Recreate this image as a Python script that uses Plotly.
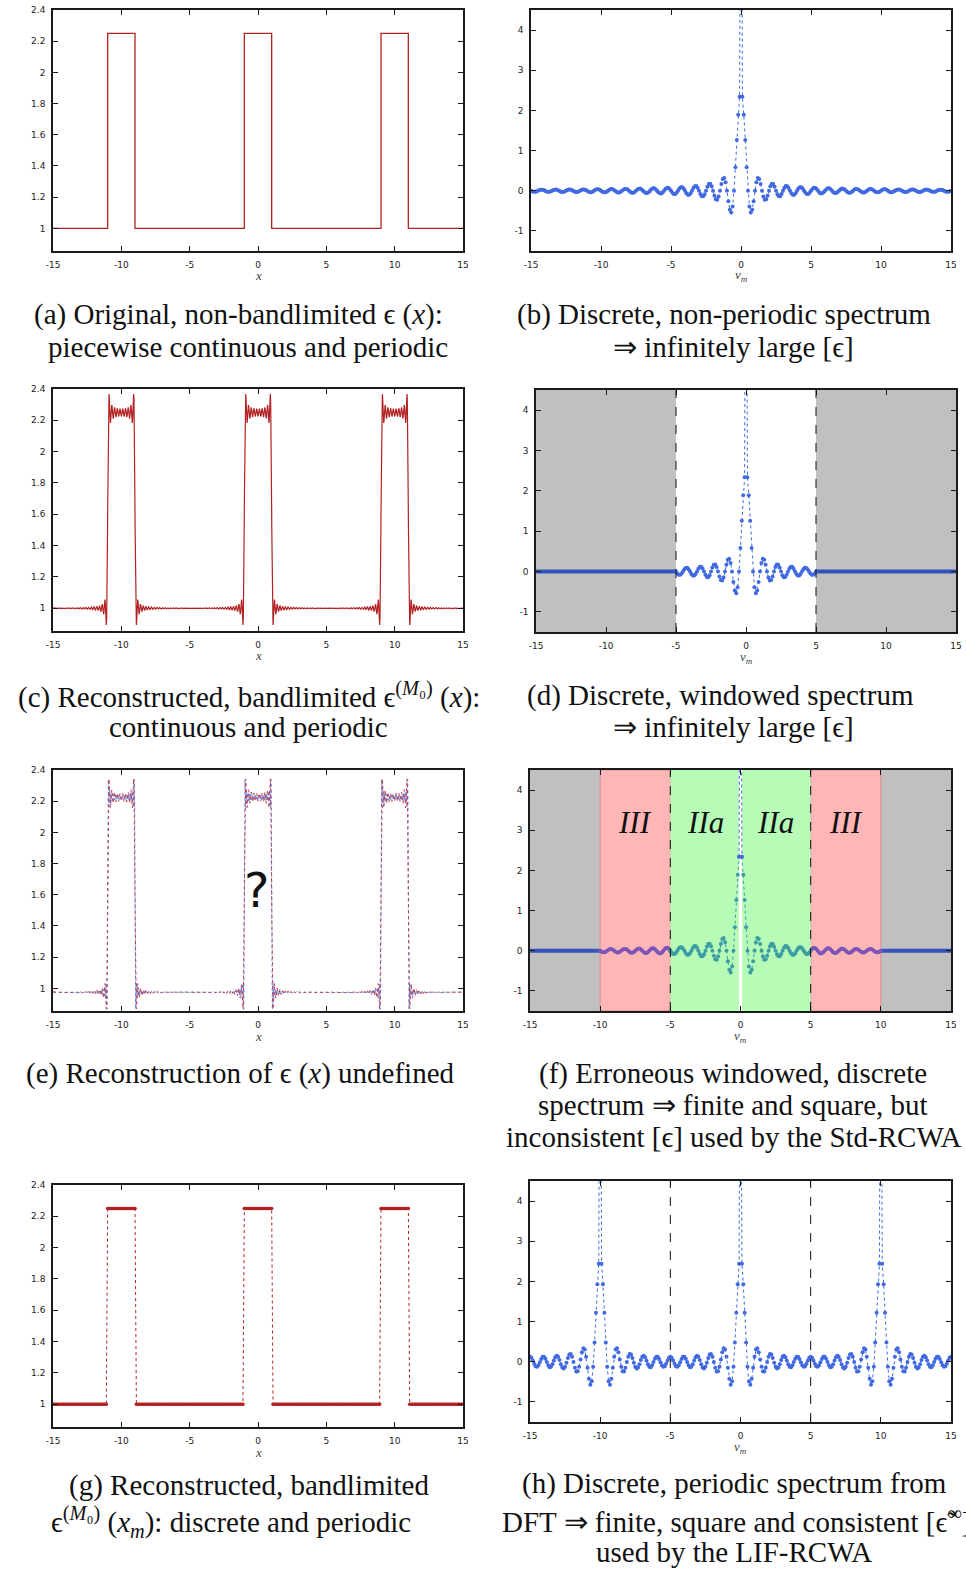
import numpy as np
import plotly.graph_objects as go

W, H = 966, 1572

# ---------------------------------------------------------------- data
PERIOD = 10.0                      # grating period
BUMP_CENTRES = [-10.0, 0.0, 10.0]  # centres of the high-permittivity ridges
BUMP_HALF_WIDTH = 1.0
EPS_LOW, EPS_HIGH = 1.0, 2.25

# piecewise-constant permittivity profile
STEP_X = [-15, -11, -11, -9, -9, -1, -1, 1, 1, 9, 9, 11, 11, 15]
STEP_Y = [1, 1, 2.25, 2.25, 1, 1, 2.25, 2.25, 1, 1, 2.25, 2.25, 1, 1]

# one-sided spectrum eps_m at nu_m = m/10, m = 0..150 (m = 0 lies far above the axes)
SPEC = [
    12.5,
    2.339, 1.892, 1.261, 0.585, 0.0, -0.390, -0.541, -0.473, -0.260, 0.0,
    0.213, 0.315, 0.291, 0.167, 0.0, -0.146, -0.223, -0.210, -0.123, 0.0,
    0.111, 0.172, 0.165, 0.097, 0.0, -0.090, -0.140, -0.135, -0.081, 0.0,
    0.075, 0.118, 0.115, 0.069, 0.0, -0.065, -0.102, -0.100, -0.060, 0.0,
    0.057, 0.090, 0.088, 0.053, 0.0, -0.051, -0.081, -0.079, -0.048, 0.0,
    0.046, 0.073, 0.071, 0.043, 0.0, -0.042, -0.066, -0.065, -0.040, 0.0,
    0.038, 0.061, 0.060, 0.037, 0.0, -0.035, -0.056, -0.056, -0.034, 0.0,
    0.033, 0.053, 0.052, 0.032, 0.0, -0.031, -0.049, -0.049, -0.030, 0.0,
    0.029, 0.046, 0.046, 0.028, 0.0, -0.027, -0.043, -0.043, -0.026, 0.0,
    0.026, 0.041, 0.041, 0.025, 0.0, -0.024, -0.039, -0.039, -0.024, 0.0,
    0.023, 0.037, 0.037, 0.022, 0.0, -0.022, -0.035, -0.035, -0.021, 0.0,
    0.021, 0.034, 0.033, 0.021, 0.0, -0.020, -0.032, -0.032, -0.020, 0.0,
    0.019, 0.031, 0.031, 0.019, 0.0, -0.019, -0.030, -0.030, -0.018, 0.0,
    0.018, 0.029, 0.028, 0.017, 0.0, -0.017, -0.028, -0.027, -0.017, 0.0,
    0.017, 0.027, 0.026, 0.016, 0.0, -0.016, -0.026, -0.026, -0.016, 0.0,
]

# one-sided DFT coefficients over one spectral period, k = 0..50
DFT_HALF = [
    12.625,
    2.439, 1.928, 1.219, 0.481, -0.125, -0.486, -0.570, -0.424, -0.152, 0.125,
    0.305, 0.339, 0.236, 0.055, -0.125, -0.235, -0.240, -0.149, -0.007, 0.125,
    0.196, 0.182, 0.096, -0.023, -0.125, -0.170, -0.143, -0.060, 0.044, 0.125,
    0.151, 0.114, 0.032, -0.061, -0.125, -0.136, -0.090, -0.008, 0.075, 0.125,
    0.122, 0.069, -0.012, -0.087, -0.125, -0.110, -0.050, 0.031, 0.099, 0.125,
]
DFT_PERIOD = 100                   # spectral period in samples (nu = 10)

M_TRUNC = 50                       # truncation order M0  (|nu| <= 5)
M_WIDE = 100                       # erroneous extended window (|nu| <= 10)
RECON_SHIFT = -0.025               # offset of the inconsistent reconstruction

EPS_TICKS = [1, 1.2, 1.4, 1.6, 1.8, 2, 2.2, 2.4]
EPS_TICK_TEXT = ["1", "1.2", "1.4", "1.6", "1.8", "2", "2.2", "2.4"]
SPEC_TICKS = [-1, 0, 1, 2, 3, 4]
SPEC_TICK_TEXT = ["-1", "0", "1", "2", "3", "4"]
X_TICKS = [-15, -10, -5, 0, 5, 10, 15]
X_TICK_TEXT = ["-15", "-10", "-5", "0", "5", "10", "15"]

# ---------------------------------------------------------------- styles
RED = "#b22222"
BLUE = "#4169e1"
DARKBLUE = "#3355bb"
TEAL = "#3c9ca4"
PURPLE = "#7d55b8"
GRAY = "#c0c0c0"
PINK = "#ffb6b6"
GREEN = "#b6fcb6"
FRAME = "#1a1a1a"
TICK_FONT = dict(family="DejaVu Sans", size=9, color="#222222")
CAP_FONT = dict(family="Liberation Serif", size=29, color="#111111")
LBL_FONT = dict(family="Liberation Serif", size=13, color="#444444")

# panel plot areas in pixels: x0, x1, y0 (top), y1 (bottom)
PANELS = {
    "a": (53, 463, 10, 251),
    "b": (531, 951, 10, 251),
    "c": (53, 463, 389, 631),
    "d": (536, 956, 390, 632),
    "e": (53, 463, 770, 1011),
    "f": (530, 951, 770, 1011),
    "g": (53, 463, 1185, 1427),
    "h": (530, 951, 1181, 1422),
}
ORDER = ["a", "b", "c", "d", "e", "f", "g", "h"]
SPECTRAL = {"b", "d", "f", "h"}

fig = go.Figure()
layout = dict(
    width=W, height=H, margin=dict(l=0, r=0, t=0, b=0, pad=0),
    paper_bgcolor="white", plot_bgcolor="white", showlegend=False,
    autosize=False,
)

axis_ref = {}
for i, key in enumerate(ORDER, start=1):
    x0, x1, y0, y1 = PANELS[key]
    sx = "" if i == 1 else str(i)
    axis_ref[key] = ("x" + sx, "y" + sx)
    common = dict(
        showgrid=False, zeroline=False, showline=True, linecolor=FRAME,
        linewidth=1.5, mirror="allticks", ticks="inside", ticklen=5,
        tickwidth=1, tickcolor=FRAME, tickfont=TICK_FONT, automargin=False,
    )
    layout["xaxis" + sx] = dict(
        common, domain=[x0 / W, x1 / W], anchor="y" + sx, range=[-15, 15],
        tickvals=X_TICKS, ticktext=X_TICK_TEXT, ticklabelstandoff=4,
    )
    if key in SPECTRAL:
        yr, yt, ytt = [-1.5, 4.5], SPEC_TICKS, SPEC_TICK_TEXT
    else:
        yr, yt, ytt = [0.855, 2.4], EPS_TICKS, EPS_TICK_TEXT
    layout["yaxis" + sx] = dict(
        common, domain=[1 - y1 / H, 1 - y0 / H], anchor="x" + sx, range=yr,
        tickvals=yt, ticktext=ytt, ticklabelstandoff=4,
    )

fig.update_layout(**layout)


def add(key, **kw):
    xa, ya = axis_ref[key]
    fig.add_trace(go.Scatter(xaxis=xa, yaxis=ya, hoverinfo="skip", **kw))


def spec_segment(lo, hi, window=None):
    ms = list(range(lo, hi + 1))
    nu = [m / 10 for m in ms]
    vals = []
    for m in ms:
        inside = window is None or abs(m) <= window
        vals.append(SPEC[abs(m)] if inside else 0.0)
    return nu, vals


def dotted_points(key, nu, vals, color, size=4):
    add(key, x=nu, y=vals, mode="lines+markers",
        line=dict(color=color, width=1, dash="dot"),
        marker=dict(color=color, size=size, line=dict(width=0)))


def zero_band(key, lo, hi, window):
    nu, vals = spec_segment(lo, hi, window)
    add(key, x=nu, y=vals, mode="lines", line=dict(color=DARKBLUE, width=4))


# Fourier synthesis of the profile from the tabulated spectrum
xs = np.linspace(-15, 15, 3001)


def synthesise(order, shift=0.0):
    out = np.full_like(xs, SPEC[0] / PERIOD + shift)
    for m in range(1, order + 1):
        out += 2 * SPEC[m] / PERIOD * np.cos(2 * np.pi * m * xs / PERIOD)
    return out


# (a) original profile
add("a", x=STEP_X, y=STEP_Y, mode="lines", line=dict(color=RED, width=1.3))

# (b) full discrete spectrum
nu, vals = spec_segment(-150, 150)
dotted_points("b", nu, vals, BLUE)

# (c) band-limited reconstruction
add("c", x=xs, y=synthesise(M_TRUNC), mode="lines",
    line=dict(color=RED, width=1.2))

# (d) windowed spectrum
zero_band("d", -150, -M_TRUNC, M_TRUNC)
zero_band("d", M_TRUNC, 150, M_TRUNC)
nu, vals = spec_segment(-M_TRUNC, M_TRUNC)
dotted_points("d", nu, vals, BLUE)

# (e) two inconsistent reconstructions
add("e", x=xs, y=synthesise(M_WIDE, RECON_SHIFT), mode="lines",
    line=dict(color="#5a7ee6", width=1, dash="dot"))
add("e", x=xs, y=synthesise(M_TRUNC, RECON_SHIFT), mode="lines",
    line=dict(color="#c0404a", width=1, dash="dot"))

# (f) erroneous windowed spectrum
zero_band("f", -150, -M_WIDE, M_WIDE)
zero_band("f", M_WIDE, 150, M_WIDE)
for lo, hi in [(-M_WIDE, -M_TRUNC), (M_TRUNC, M_WIDE)]:
    nu, vals = spec_segment(lo, hi)
    dotted_points("f", nu, vals, PURPLE)
for lo, hi in [(-M_TRUNC, -1), (1, M_TRUNC)]:
    nu, vals = spec_segment(lo, hi)
    dotted_points("f", nu, vals, TEAL)
nu, vals = spec_segment(-1, 1)
dotted_points("f", nu, vals, BLUE)

# (g) sampled band-limited profile
ks = list(range(-150, 151))
gx = [k / 10 for k in ks]
gy = []
for k in ks:
    high = any(abs(k - round(c * 10)) <= round(BUMP_HALF_WIDTH * 10)
               for c in BUMP_CENTRES)
    gy.append(EPS_HIGH if high else EPS_LOW)
add("g", x=gx, y=gy, mode="lines+markers",
    line=dict(color=RED, width=1, dash="dot"),
    marker=dict(color=RED, size=3.6, line=dict(width=0)))

# (h) periodic DFT spectrum
hy = []
for k in ks:
    idx = abs(((k + DFT_PERIOD // 2) % DFT_PERIOD) - DFT_PERIOD // 2)
    hy.append(DFT_HALF[idx])
dotted_points("h", gx, hy, BLUE)

# ---------------------------------------------------------------- shapes
shapes = []


def band(key, a, b, color, line=None):
    xa, ya = axis_ref[key]
    shapes.append(dict(type="rect", xref=xa, yref=ya + " domain", x0=a, x1=b,
                       y0=0, y1=1, fillcolor=color, layer="below",
                       line=line or dict(width=0)))


def vdash(key, v):
    xa, ya = axis_ref[key]
    shapes.append(dict(type="line", xref=xa, yref=ya + " domain", x0=v, x1=v,
                       y0=0, y1=1, layer="above",
                       line=dict(color="#111111", width=1, dash="dash")))


band("d", -15, -5, GRAY)
band("d", 5, 15, GRAY)
band("f", -15, -10, GRAY)
band("f", 10, 15, GRAY)
band("f", -10, -5, PINK, dict(color="#d88a8a", width=1))
band("f", 5, 10, PINK, dict(color="#d88a8a", width=1))
band("f", -5, -0.12, GREEN)
band("f", 0.12, 5, GREEN)
for key in ["d", "f", "h"]:
    vdash(key, -5)
    vdash(key, 5)

fig.update_layout(shapes=shapes)

# ---------------------------------------------------------------- text
ann = []


def text(px, py, s, font, xanchor="center"):
    ann.append(dict(x=px / W, y=1 - py / H, xref="paper", yref="paper",
                    text=s, showarrow=False, font=font, xanchor=xanchor,
                    yanchor="middle"))


for key in ORDER:
    x0, x1, y0, y1 = PANELS[key]
    label = "<i>ν<sub>m</sub></i>" if key in SPECTRAL else "<i>x</i>"
    text((x0 + x1) / 2, y1 + 25, label, LBL_FONT)

# region labels in (f)
xa, ya = axis_ref["f"]
for v, s in [(-7.5, "III"), (-2.5, "IIa"), (2.5, "IIa"), (7.5, "III")]:
    ann.append(dict(x=v, y=3.2, xref=xa, yref=ya, text="<i>" + s + "</i>",
                    showarrow=False,
                    font=dict(family="Liberation Serif", size=31, color="#111")))

# undefined reconstruction marker in (e)
xa, ya = axis_ref["e"]
ann.append(dict(x=-0.1, y=1.63, xref=xa, yref=ya, text="?", showarrow=False,
                font=dict(family="DejaVu Sans", size=48, color="#111")))

captions = [
    (238, 315, "(a) Original, non-bandlimited ϵ (<i>x</i>):", "center"),
    (248, 347, "piecewise continuous and periodic", "center"),
    (724, 315, "(b) Discrete, non-periodic spectrum", "center"),
    (733, 347, "⇒ infinitely large [ϵ]", "center"),
    (249, 695, "(c) Reconstructed, bandlimited ϵ<sup>(<i>M</i>₀)</sup> (<i>x</i>):", "center"),
    (248, 727, "continuous and periodic", "center"),
    (720, 695, "(d) Discrete, windowed spectrum", "center"),
    (733, 727, "⇒ infinitely large [ϵ]", "center"),
    (240, 1073, "(e) Reconstruction of ϵ (<i>x</i>) undefined", "center"),
    (733, 1073, "(f) Erroneous windowed, discrete", "center"),
    (733, 1105, "spectrum ⇒ finite and square, but", "center"),
    (734, 1137, "inconsistent [ϵ] used by the Std-RCWA", "center"),
    (249, 1485, "(g) Reconstructed, bandlimited", "center"),
    (231, 1522, "ϵ<sup>(<i>M</i>₀)</sup> (<i>x<sub>m</sub></i>): discrete and periodic", "center"),
    (734, 1483, "(h) Discrete, periodic spectrum from", "center"),
    (500, 1520, "DFT ⇒ finite, square and consistent [ϵ̃<sup>∞</sup>]", "left"),
    (734, 1552, "used by the LIF-RCWA", "center"),
]
for px, py, s, anchor in captions:
    text(px, py, s, CAP_FONT, anchor)

fig.update_layout(annotations=ann)

fig.write_html("out.html", config=dict(displayModeBar=False))
